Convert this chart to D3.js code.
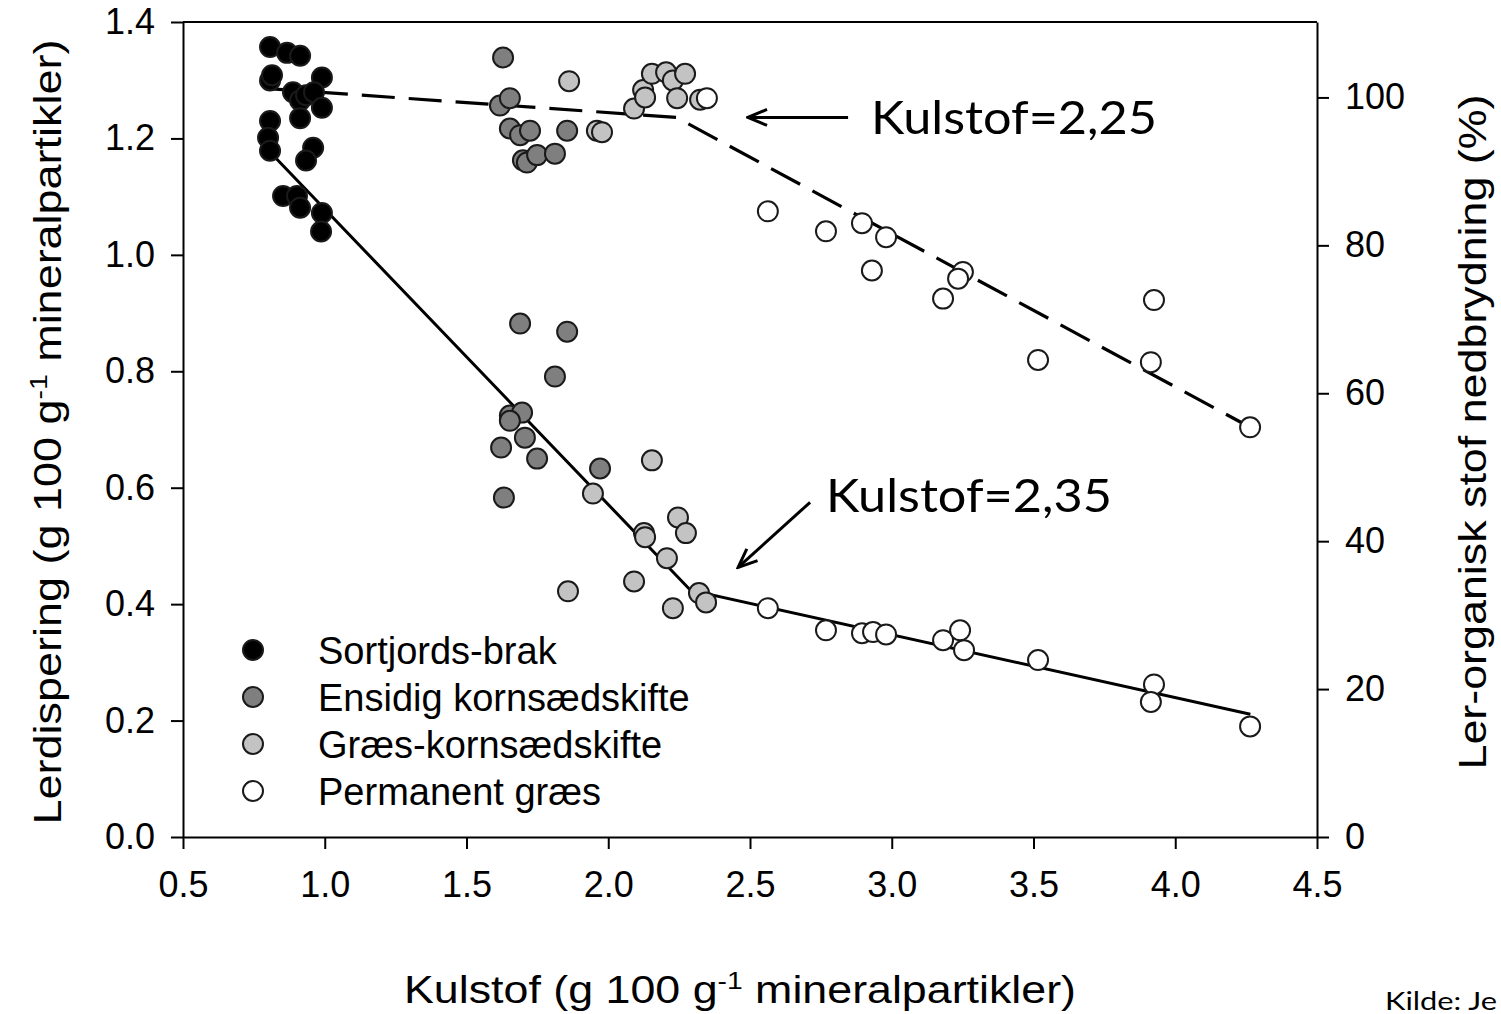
<!DOCTYPE html>
<html>
<head>
<meta charset="utf-8">
<script src="https://cdn.jsdelivr.net/npm/d3@7"></script>
<style>
  body { margin: 0; background: #fff; }
  svg { display: block; }
</style>
</head>
<body>
<svg width="1501" height="1014"></svg>
<script>
// treatments, in legend order
var groups = ["Sortjords-brak", "Ensidig kornsædskifte", "Græs-kornsædskifte", "Permanent græs"];
var fills = ["#000000", "#7f7f7f", "#c3c3c3", "#ffffff"];

// clay dispersion (left axis), [kulstof, g 100 g-1]
var dispBlack = [[0.807,1.357],[0.867,1.347],[0.913,1.342],[0.807,1.230],[0.800,1.201],[0.807,1.179],
  [0.959,1.184],[0.934,1.162],[0.853,1.101],[0.902,1.101],[0.913,1.081],[0.990,1.072],[0.987,1.040]];
var dispDark = [[1.689,0.882],[1.855,0.868],[1.812,0.791],[1.653,0.724],[1.696,0.729],[1.653,0.715],
  [1.706,0.686],[1.622,0.669],[1.749,0.650],[1.971,0.633],[1.632,0.583]];
var dispLight = [[2.154,0.647],[1.946,0.590],[2.126,0.522],[2.130,0.515],[2.246,0.549],[2.274,0.522],
  [2.207,0.479],[1.858,0.422],[2.091,0.439],[2.228,0.393],[2.320,0.419],[2.345,0.403]];
var dispWhite = [[2.563,0.393],[2.768,0.355],[2.895,0.350],[2.934,0.352],[2.980,0.348],[3.181,0.338],
  [3.241,0.355],[3.255,0.321],[3.516,0.304],[3.925,0.262],[3.914,0.232],[4.264,0.190]];

// clay-organic matter degradation (right axis), [kulstof, %]
var degBlack = [[0.807,102.3],[0.814,103.0],[0.888,100.7],[0.913,99.6],[0.934,100.3],[0.990,102.7],
  [0.962,100.7],[0.990,98.6],[0.913,97.2]];
var degDark = [[1.629,105.4],[1.618,98.9],[1.653,99.9],[1.653,95.8],[1.689,94.9],[1.724,95.5],
  [1.855,95.5],[1.699,91.5],[1.713,91.2],[1.749,92.2],[1.812,92.4]];
var degLight = [[1.862,102.2],[1.960,95.5],[1.978,95.3],[2.091,98.5],[2.123,101.0],[2.130,100.0],
  [2.154,103.2],[2.204,103.4],[2.228,102.3],[2.271,103.2],[2.243,99.9],[2.324,99.7]];
var degWhite = [[2.348,99.9],[2.563,84.6],[2.768,81.9],[2.895,83.0],[2.980,81.1],[2.930,76.6],
  [3.181,72.8],[3.251,76.4],[3.234,75.5],[3.516,64.5],[3.925,72.6],[3.914,64.2],[4.264,55.4]];

// broken-stick fits
var fitDisp = [[0.80,1.180],[2.29,0.424],[4.265,0.211]];
var fitDeg = [[0.80,101.2],[2.24,97.3],[4.264,55.4]];

var xTicks = [0.5,1.0,1.5,2.0,2.5,3.0,3.5,4.0,4.5];
var yLeftTicks = [0,0.2,0.4,0.6,0.8,1.0,1.2,1.4];
var yRightTicks = [0,20,40,60,80,100];

var disp = [dispBlack, dispDark, dispLight, dispWhite];
var deg = [degBlack, degDark, degLight, degWhite];

var svg = d3.select("svg");
var plotL = 183, plotR = 1317, plotT = 22, plotB = 837;

var x = d3.scaleLinear().domain([0.5, 4.5]).range([plotL, plotR]);
var yL = d3.scaleLinear().domain([0, 1.4]).range([plotB, plotT]);
var yR = d3.scaleLinear().domain([0, 110.2]).range([plotB, plotT]);

var axisFont = "'Liberation Sans', Arial, sans-serif";

// frame top
svg.append("line")
    .attr("x1", plotL).attr("x2", plotR).attr("y1", plotT).attr("y2", plotT)
    .attr("stroke", "#000").attr("stroke-width", 2);

function styleAxis(g) {
    g.select(".domain").attr("stroke-width", 2);
    g.selectAll(".tick line").attr("stroke-width", 2);
    g.selectAll(".tick text").attr("font-family", axisFont).attr("font-size", 36).attr("fill", "#000");
}

svg.append("g")
    .attr("transform", "translate(0," + plotB + ")")
    .call(d3.axisBottom(x).tickValues(xTicks).tickFormat(d3.format(".1f"))
        .tickSize(12).tickSizeOuter(0).tickPadding(22))
    .call(styleAxis);

svg.append("g")
    .attr("transform", "translate(" + plotL + ",0)")
    .call(d3.axisLeft(yL).tickValues(yLeftTicks).tickFormat(d3.format(".1f"))
        .tickSize(12).tickSizeOuter(0).tickPadding(16))
    .call(styleAxis);

svg.append("g")
    .attr("transform", "translate(" + plotR + ",0)")
    .call(d3.axisRight(yR).tickValues(yRightTicks).tickFormat(d3.format("d"))
        .tickSize(12).tickSizeOuter(0).tickPadding(16))
    .call(styleAxis);

// axis titles
var xt = svg.append("text")
    .attr("x", 740).attr("y", 1003)
    .attr("text-anchor", "middle")
    .attr("font-family", axisFont).attr("font-size", 38)
    .attr("textLength", 672).attr("lengthAdjust", "spacingAndGlyphs");
xt.append("tspan").text("Kulstof (g 100 g");
xt.append("tspan").attr("dy", -14).attr("font-size", 24).text("-1");
xt.append("tspan").attr("dy", 14).text(" mineralpartikler)");

var lt = svg.append("text")
    .attr("transform", "translate(61,432) rotate(-90)")
    .attr("text-anchor", "middle")
    .attr("font-family", axisFont).attr("font-size", 38)
    .attr("textLength", 785).attr("lengthAdjust", "spacingAndGlyphs");
lt.append("tspan").text("Lerdispering (g 100 g");
lt.append("tspan").attr("dy", -14).attr("font-size", 24).text("-1");
lt.append("tspan").attr("dy", 14).text(" mineralpartikler)");

svg.append("text")
    .attr("transform", "translate(1486,432) rotate(-90)")
    .attr("text-anchor", "middle")
    .attr("font-family", axisFont).attr("font-size", 38)
    .attr("textLength", 675).attr("lengthAdjust", "spacingAndGlyphs")
    .text("Ler-organisk stof nedbrydning (%)");

// fitted lines
var lineL = d3.line().x(function(d) { return x(d[0]); }).y(function(d) { return yL(d[1]); });
var lineR = d3.line().x(function(d) { return x(d[0]); }).y(function(d) { return yR(d[1]); });

svg.append("path").datum(fitDisp).attr("d", lineL)
    .attr("fill", "none").attr("stroke", "#000").attr("stroke-width", 3);
svg.append("path").datum(fitDeg).attr("d", lineR)
    .attr("fill", "none").attr("stroke", "#000").attr("stroke-width", 3.2)
    .attr("stroke-dasharray", "33,14");

// points
groups.forEach(function(name, i) {
    var g = svg.append("g").attr("fill", fills[i]).attr("stroke", "#1a1a1a").attr("stroke-width", 2);
    g.selectAll("circle.d").data(disp[i]).enter().append("circle")
        .attr("cx", function(d) { return x(d[0]); })
        .attr("cy", function(d) { return yL(d[1]); })
        .attr("r", 10);
    g.selectAll("circle.r").data(deg[i]).enter().append("circle")
        .attr("cx", function(d) { return x(d[0]); })
        .attr("cy", function(d) { return yR(d[1]); })
        .attr("r", 10);
});

// legend
var legend = svg.append("g");
groups.forEach(function(name, i) {
    var yy = 650 + i * 47;
    legend.append("circle").attr("cx", 253).attr("cy", yy).attr("r", 10)
        .attr("fill", fills[i]).attr("stroke", "#1a1a1a").attr("stroke-width", 2);
    legend.append("text").attr("x", 318).attr("y", yy).attr("dy", "0.36em")
        .attr("font-family", axisFont).attr("font-size", 38)
        .text(name);
});

// annotations
svg.append("defs").append("marker")
    .attr("id", "head").attr("viewBox", "-20 -10 22 20")
    .attr("refX", 0).attr("refY", 0)
    .attr("markerWidth", 22).attr("markerHeight", 20)
    .attr("markerUnits", "userSpaceOnUse")
    .attr("orient", "auto")
    .append("path").attr("d", "M-19,-8 L0,0 L-19,8")
    .attr("fill", "none").attr("stroke", "#000").attr("stroke-width", 3);

var annFont = "Lato, 'Noto Sans', sans-serif";

svg.append("line")
    .attr("x1", x(2.846)).attr("y1", yR(97.3)).attr("x2", x(2.493)).attr("y2", yR(97.3))
    .attr("stroke", "#000").attr("stroke-width", 3).attr("marker-end", "url(#head)");
svg.append("text")
    .attr("x", x(2.927)).attr("y", yR(97.3)).attr("dy", "0.36em")
    .attr("font-family", annFont).attr("font-size", 46)
    .attr("textLength", 286).attr("lengthAdjust", "spacingAndGlyphs")
    .text("Kulstof=2,25");

svg.append("line")
    .attr("x1", x(2.712)).attr("y1", yL(0.575)).attr("x2", x(2.458)).attr("y2", yL(0.463))
    .attr("stroke", "#000").attr("stroke-width", 3).attr("marker-end", "url(#head)");
svg.append("text")
    .attr("x", x(2.768)).attr("y", yL(0.587)).attr("dy", "0.36em")
    .attr("font-family", annFont).attr("font-size", 46)
    .attr("textLength", 286).attr("lengthAdjust", "spacingAndGlyphs")
    .text("Kulstof=2,35");

svg.append("text")
    .attr("x", 1385).attr("y", 1010)
    .attr("font-family", annFont).attr("font-size", 25)
    .attr("textLength", 112).attr("lengthAdjust", "spacingAndGlyphs")
    .text("Kilde: Je");
</script>
</body>
</html>
